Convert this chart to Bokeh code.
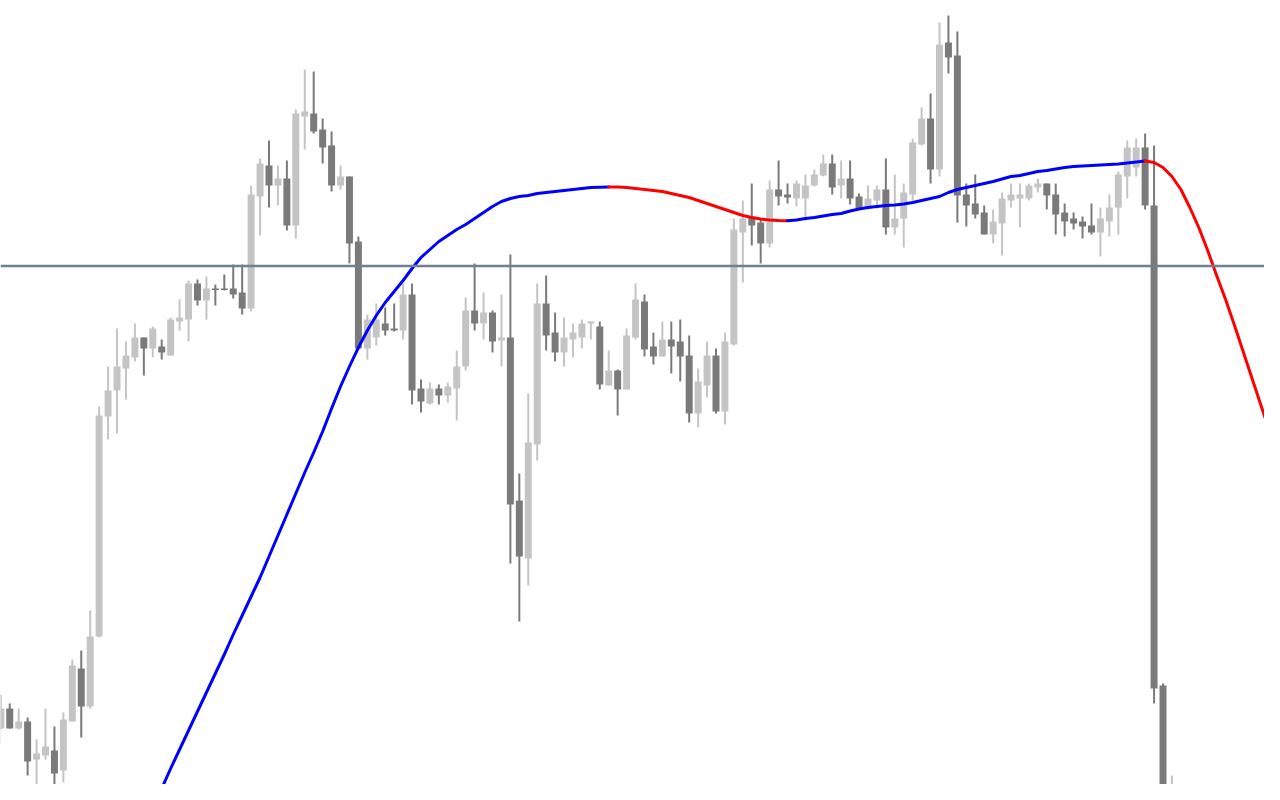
from bokeh.plotting import figure
from bokeh.models import Range1d, Span, ColumnDataSource
from bokeh.embed import file_html
from bokeh.resources import INLINE

# ---- data (price units) ----
opens = [48, 64, 84, 64, 71, 33, 37, 42, 22, 71, 124, 86, 156, 376, 402, 424, 435, 455, 444, 446,
         437, 471, 473, 509, 492, 504, 504, 504, 500, 484, 596, 627, 607, 614, 567, 676, 679, 663, 647, 607,
         616, 551, 444, 455, 469, 464, 462, 498, 404, 389, 404, 397, 404, 426, 482, 469, 480, 452, 455, 292,
         234, 348, 489, 460, 440, 453, 455, 469, 466, 407, 422, 403, 455, 491, 446, 436, 453, 451, 437, 379,
         407, 437, 381, 448, 560, 576, 570, 549, 603, 598, 594, 594, 607, 617, 629, 607, 614, 596, 584, 592,
         603, 565, 574, 598, 648, 674, 623, 750, 737, 598, 589, 580, 558, 569, 592, 594, 594, 605, 609, 598,
         580, 574, 571, 567, 560, 571, 585, 616, 625, 645, 587, 107, -60]
highs = [68, 98, 89, 84, 75, 53, 84, 66, 80, 133, 142, 182, 386, 426, 464, 451, 469, 455, 466, 453,
         475, 493, 512, 513, 516, 508, 518, 528, 528, 607, 634, 652, 627, 632, 683, 723, 721, 674, 661, 627,
         616, 556, 478, 489, 485, 489, 509, 509, 413, 410, 408, 410, 442, 495, 529, 500, 482, 498, 538, 319,
         399, 509, 517, 480, 475, 469, 473, 471, 471, 442, 423, 464, 509, 498, 460, 471, 471, 473, 457, 424,
         451, 444, 460, 574, 592, 609, 574, 612, 632, 609, 612, 618, 623, 638, 638, 632, 632, 599, 607, 607,
         634, 618, 609, 654, 685, 699, 770, 777, 761, 609, 618, 587, 583, 600, 609, 609, 609, 614, 609, 609,
         589, 580, 576, 589, 585, 598, 621, 652, 654, 659, 647, 109, 17]
lows = [47, 63, 64, 63, 17, -2, 33, 4, 10, 71, 55, 84, 155, 353, 359, 393, 431, 417, 435, 433,
        437, 462, 451, 487, 473, 487, 502, 494, 478, 481, 557, 585, 587, 562, 554, 643, 659, 629, 601, 603,
        529, 443, 433, 447, 457, 461, 453, 388, 380, 388, 388, 390, 372, 422, 462, 453, 440, 426, 229, 171,
        207, 332, 442, 431, 426, 435, 444, 453, 403, 407, 377, 403, 453, 436, 428, 436, 419, 411, 370, 365,
        395, 379, 368, 447, 510, 547, 529, 545, 587, 589, 586, 572, 606, 616, 598, 594, 588, 584, 583, 584,
        558, 558, 545, 592, 647, 609, 616, 719, 570, 566, 574, 558, 549, 537, 585, 565, 592, 600, 583, 558,
        556, 563, 554, 558, 536, 556, 558, 594, 616, 583, 89, -80, -70]
closes = [66, 84, 64, 71, 31, 39, 46, 19, 73, 127, 86, 156, 377, 402, 426, 437, 455, 444, 464, 440,
          473, 475, 509, 492, 504, 502.5, 502.5, 498, 484, 598, 629, 607, 614, 567, 679, 681, 661, 645, 607, 616,
          549, 444, 473, 473, 462, 462, 498, 402, 391, 404, 397, 406, 426, 482, 469, 480, 451, 455, 288, 236,
          350, 489, 457, 440, 455, 460, 469, 471, 408, 422, 403, 457, 493, 443, 436, 453, 446, 436, 379, 411,
          437, 381, 451, 563, 574, 567, 549, 603, 596, 595, 609, 607, 618, 629, 605, 614, 594, 584, 594, 603,
          565, 574, 600, 650, 674, 623, 748, 735, 597, 587, 578, 558, 571, 594, 598, 598, 607, 609, 597, 578,
          571, 569, 566, 560, 574, 585, 618, 645, 645, 587, 104, -60, -15]

# smoothed moving average, starting at bar 18
ma_start = 18
ma_values = [-15, 4, 24, 43, 62, 81, 100, 119, 138, 158, 177, 196, 215, 236, 257, 278, 299, 320, 340, 361,
             384, 406, 426, 445, 462, 477, 490, 501, 512, 524, 535, 543, 551, 557, 563, 568, 574, 580, 586, 591,
             594, 596, 597, 599, 600, 601, 602, 603, 604, 605, 605.3, 605.5, 605.4, 605, 604, 603, 602, 601, 599, 597,
             595, 592, 589, 586, 583, 580, 577, 575, 573.5, 572.5, 572, 571.8, 572.5, 574, 575, 576.5, 578, 579, 581.5, 583.5,
             585, 586, 587, 587.5, 588.5, 590, 592, 594, 596, 600, 603, 605, 607, 609, 611, 613.5, 616, 617, 619, 621,
             622, 623.5, 625, 626, 626.5, 627, 627.5, 628, 628.5, 629.5, 630.5, 631.5, 630, 625, 616, 603, 585, 565, 542, 517,
             493, 467, 440, 413, 386, 359, 332]

level = 526.5

UP_COL = "#c4c4c4"
DN_COL = "#7a7a7a"

idx = list(range(len(opens)))
cols = [UP_COL if c > o else DN_COL for o, c in zip(opens, closes)]
src = ColumnDataSource(dict(
    x=idx, o=opens, h=highs, l=lows, c=closes,
    top=[max(o, c) for o, c in zip(opens, closes)],
    bot=[min(o, c) for o, c in zip(opens, closes)],
    col=cols,
))

p = figure(width=1264, height=784, output_backend="svg", toolbar_location=None,
           x_axis_location=None, y_axis_location=None,
           x_range=Range1d(0.96644, 142.353), y_range=Range1d(8, 792),
           min_border=0)
p.min_border_left = p.min_border_right = p.min_border_top = p.min_border_bottom = 0
p.outline_line_color = None
p.background_fill_color = "white"
p.border_fill_color = "white"
p.xgrid.visible = False
p.ygrid.visible = False

p.segment(x0="x", y0="h", x1="x", y1="l", source=src, line_color="col", line_width=2)
p.vbar(x="x", top="top", bottom="bot", width=0.78, source=src, fill_color="col", line_color=None)

p.add_layout(Span(location=level, dimension="width", line_color="#708090", line_width=2.5))

# moving average coloured by slope
ma_x = list(range(ma_start, ma_start + len(ma_values)))
xs, ys, lc = [], [], []
cur_x, cur_y, cur_c = [ma_x[0]], [ma_values[0]], None
for i in range(1, len(ma_values)):
    c = "#0000ff" if ma_values[i] >= ma_values[i - 1] else "#ff0000"
    if cur_c is None or c == cur_c:
        cur_c = c
        cur_x.append(ma_x[i]); cur_y.append(ma_values[i])
    else:
        xs.append(cur_x); ys.append(cur_y); lc.append(cur_c)
        cur_x = [ma_x[i - 1], ma_x[i]]; cur_y = [ma_values[i - 1], ma_values[i]]; cur_c = c
xs.append(cur_x); ys.append(cur_y); lc.append(cur_c)
p.multi_line(xs=xs, ys=ys, line_color=lc, line_width=3, line_join="round", line_cap="round")

open("out.html", "w").write(file_html(p, INLINE))
